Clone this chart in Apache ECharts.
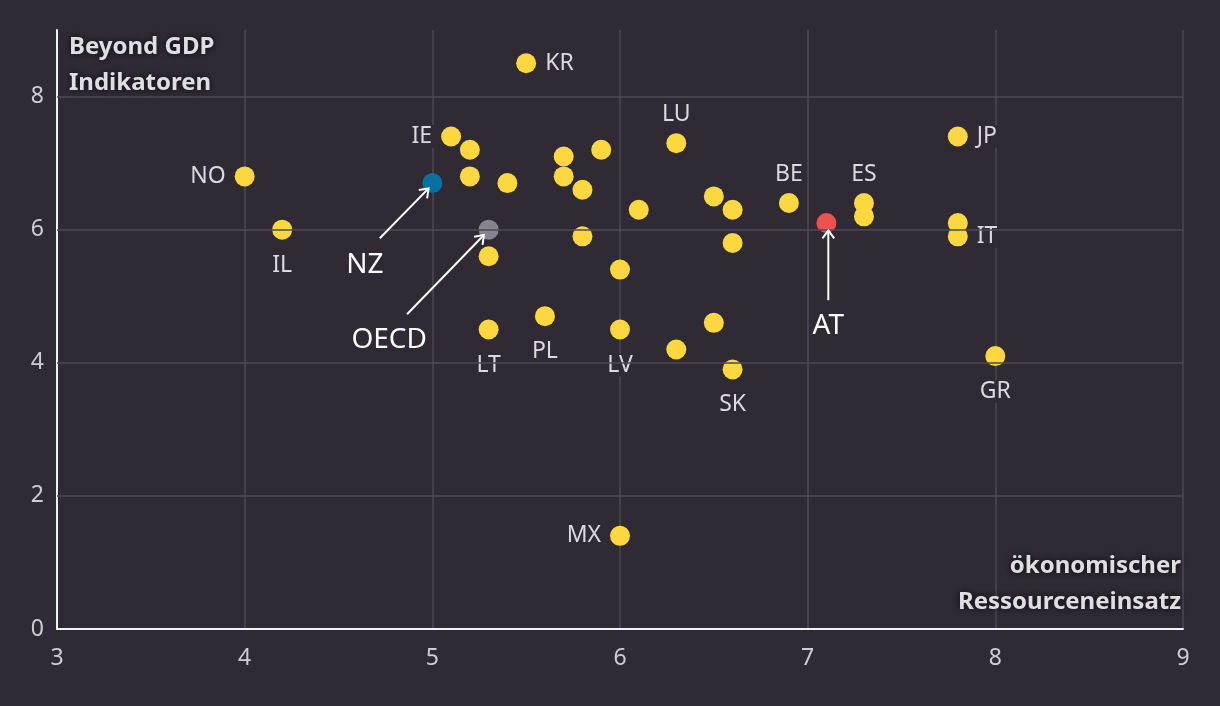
<!DOCTYPE html>
<html><head><meta charset="utf-8">
<script src="https://cdn.jsdelivr.net/npm/echarts@6/dist/echarts.min.js"></script>
<style>html,body{margin:0;padding:0;background:#2f2a34;}#c{width:1220px;height:706px;}</style>
</head><body><div id="c"></div>
<script>
// country values: economic resource use (x) vs Beyond GDP indicators (y)
const countryNames = ['KR','LU','IE','','','','','','','','','','','','NO','IL','LT','PL','LV','','','SK','','','','BE','ES','','JP','','IT','GR','MX'];
const countryX =     [5.5, 6.3, 5.1, 5.2,5.2,5.4,5.7,5.7,5.8,5.9,6.1,5.8,6.0,5.3,4.0, 4.2, 5.3, 5.6, 6.0, 6.3,6.5,6.6, 6.5,6.6,6.6,6.9, 7.3, 7.3,7.8, 7.8,7.8, 8.0, 6.0];
const countryY =     [8.5, 7.3, 7.4, 7.2,6.8,6.7,7.1,6.8,6.6,7.2,6.3,5.9,5.4,5.6,6.8, 6.0, 4.5, 4.7, 4.5, 4.2,4.6,3.9, 6.5,6.3,5.8,6.4, 6.4, 6.2,7.4, 6.1,5.9, 4.1, 1.4];
const nzPoint = [5.0, 6.7];
const oecdPoint = [5.3, 6.0];
const atPoint = [7.1, 6.1];
const annotNames = ['NZ','OECD','AT'];
const annotTextPos = [[4.64,5.47],[4.77,4.34],[7.11,4.55]];
const annotArrowFrom = [[4.72,5.87],[4.865,4.73],[7.11,4.94]];
const annotArrowTo = [[4.98,6.62],[5.275,5.92],[7.11,5.99]];
const xTicks = [3,4,5,6,7,8,9];
const yTicks = [0,2,4,6,8];
const yGridLines = [2,4,6,8];

// label placement (style)
const labelSide = {KR:'right',LU:'top',IE:'left',NO:'left',IL:'bottom',LT:'bottom',PL:'bottom',LV:'bottom',SK:'bottom',BE:'top',ES:'top',JP:'right',IT:'right',GR:'bottom',MX:'left'};

const BG = '#2f2a34';
const FONT = '"Noto Sans", "DejaVu Sans", sans-serif';

const countryData = countryNames.map((n,i)=>{
  const d = {name:n, value:[countryX[i], countryY[i]]};
  if (n) {
    const side = labelSide[n];
    d.label = {show:true, position: side, distance: side === 'bottom' ? 14 : 7};
  }
  return d;
});

const chart = echarts.init(document.getElementById('c'));
const option = {
  backgroundColor: BG,
  animation: false,
  grid: {left:57, right:37, top:30, bottom:77, containLabel:false},
  xAxis: {
    type:'value', min:3, max:9, interval:1,
    axisLine:{show:true, lineStyle:{color:'#f2f2f2', width:2}},
    axisTick:{show:false},
    axisLabel:{color:'#cfcdd2', fontSize:23, fontFamily:FONT, margin:18,
      formatter: v => xTicks.includes(v) ? String(v) : ''},
    splitLine:{show:true, lineStyle:{color:'#4e4a54', width:1.5}}
  },
  yAxis: {
    type:'value', min:0, max:9, interval:2,
    axisLine:{show:true, onZero:false, lineStyle:{color:'#f2f2f2', width:2}},
    axisTick:{show:false},
    axisLabel:{color:'#cfcdd2', fontSize:23, fontFamily:FONT, margin:13,
      formatter: v => yTicks.includes(v) ? String(v) : ''},
    splitLine:{show:false}
  },
  series: [
    {
      type:'scatter', name:'grid', data:[], silent:true, z:1,
      markLine:{silent:true, symbol:'none', label:{show:false},
        lineStyle:{color:'#4e4a54', width:1.5, type:'solid'},
        data: yGridLines.map(v=>({yAxis:v}))}
    },
    {
      type:'scatter', name:'countries', symbolSize:20, z:3,
      itemStyle:{color:'#fdd73f', opacity:1},
      emphasis:{disabled:true},
      label:{show:false, formatter:'{b}', color:'#dcdadf', fontSize:23, fontFamily:FONT,
        backgroundColor:BG, padding:[0,2]},
      data: countryData
    },
    {
      type:'scatter', name:'NZ', symbolSize:20, z:4,
      itemStyle:{color:'#0871a0', opacity:1}, data:[nzPoint]
    },
    {
      type:'scatter', name:'OECD', symbolSize:20, z:4,
      itemStyle:{color:'#88848c', opacity:1}, data:[oecdPoint]
    },
    {
      type:'scatter', name:'AT', symbolSize:20, z:4,
      itemStyle:{color:'#ec5350', opacity:1}, data:[atPoint]
    },
    {
      type:'scatter', name:'annot', symbolSize:0, z:5, silent:true,
      itemStyle:{opacity:1},
      label:{show:true, position:'inside', formatter:'{b}', color:'#ffffff', fontSize:28, fontFamily:FONT},
      data: annotNames.map((n,i)=>({name:n, value:annotTextPos[i]}))
    }
  ],
  graphic: [
    {type:'text', x:69, y:29, z:10, style:{
      text:'Beyond GDP\nIndikatoren', fill:'#e0dee2', font:'bold 24px '+FONT, lineHeight:36,
      textShadowColor:'rgba(0,0,0,0.8)', textShadowBlur:6}},
    {type:'text', x:1181, y:548, z:10, style:{
      text:'ökonomischer\nRessourceneinsatz', fill:'#e0dee2', font:'bold 24px '+FONT, lineHeight:36, align:'right',
      textShadowColor:'rgba(0,0,0,0.8)', textShadowBlur:6}}
  ]
};
chart.setOption(option);

// arrows drawn through the chart's own coordinate conversion
const arrowEls = [];
annotArrowFrom.forEach((f,i)=>{
  const p0 = chart.convertToPixel({gridIndex:0}, f);
  const p1 = chart.convertToPixel({gridIndex:0}, annotArrowTo[i]);
  const ang = Math.atan2(p1[1]-p0[1], p1[0]-p0[0]);
  const L = 10, a = Math.PI/5;
  const h1 = [p1[0]-L*Math.cos(ang-a), p1[1]-L*Math.sin(ang-a)];
  const h2 = [p1[0]-L*Math.cos(ang+a), p1[1]-L*Math.sin(ang+a)];
  arrowEls.push({type:'polyline', z:20, silent:true, shape:{points:[p0,p1]}, style:{stroke:'#ffffff', lineWidth:2, fill:null}});
  arrowEls.push({type:'polyline', z:20, silent:true, shape:{points:[h1,p1,h2]}, style:{stroke:'#ffffff', lineWidth:2, fill:null}});
});
chart.setOption({graphic: option.graphic.concat(arrowEls)});
</script>
</body></html>
